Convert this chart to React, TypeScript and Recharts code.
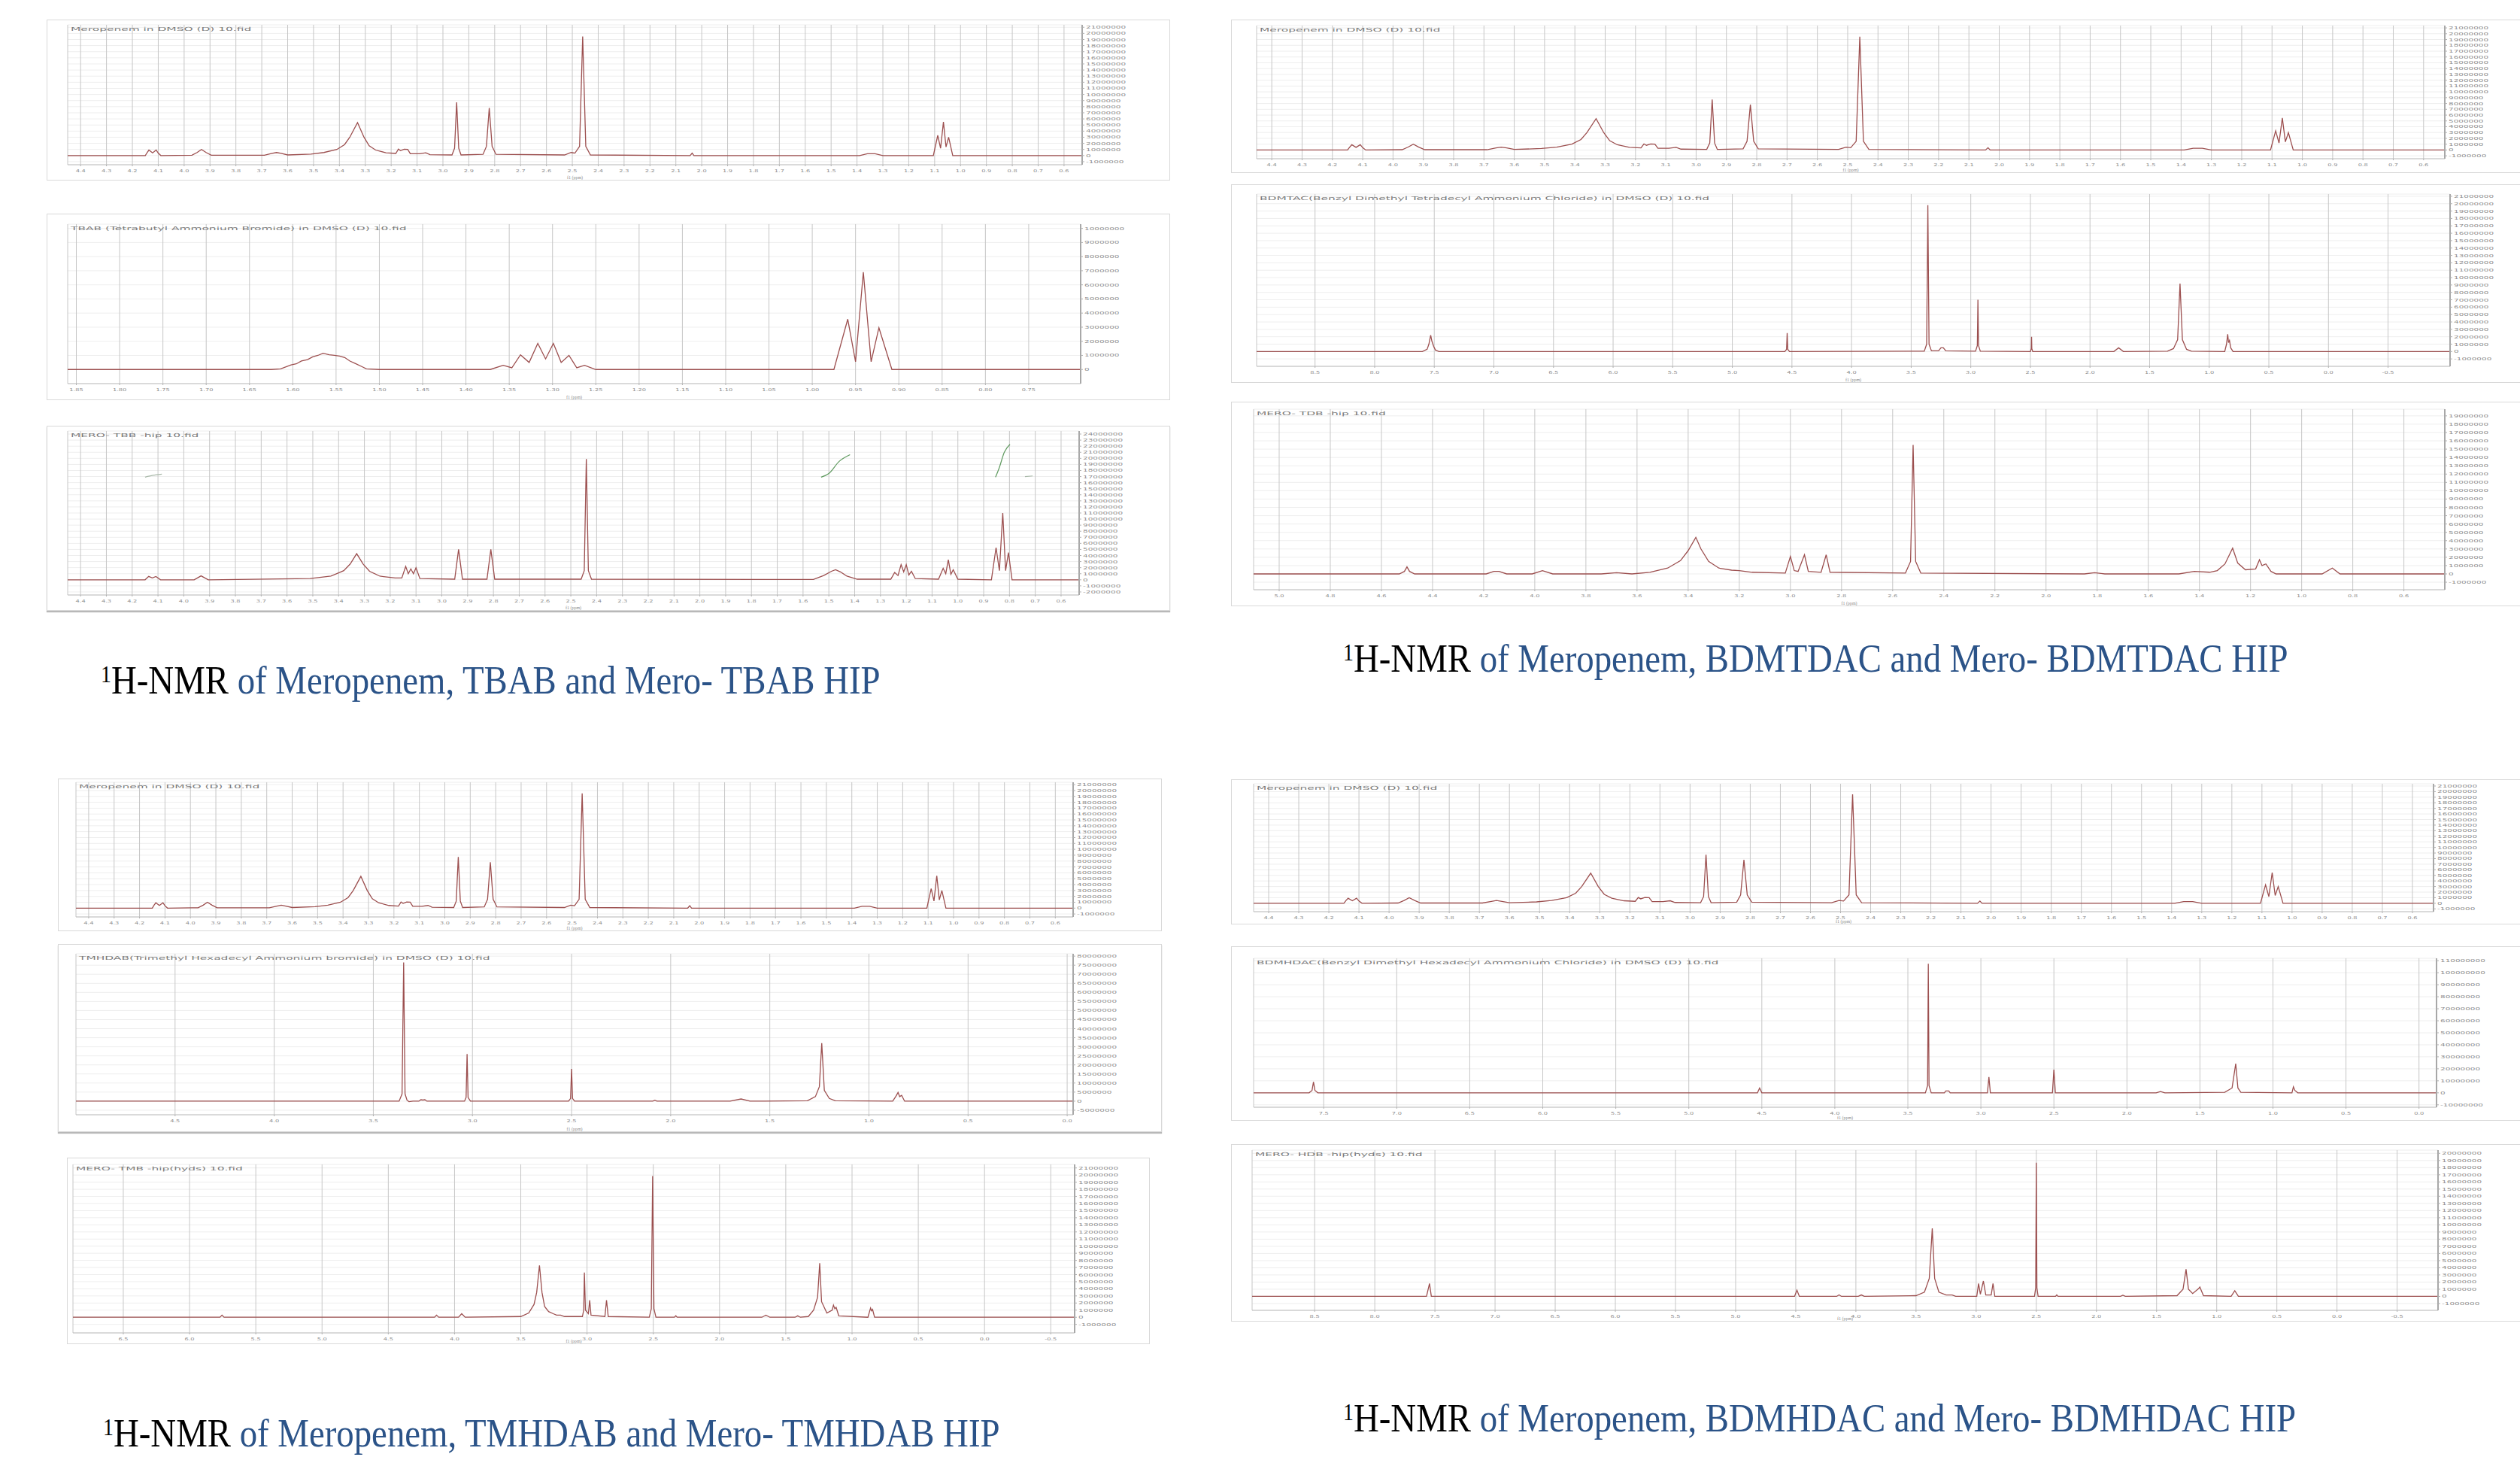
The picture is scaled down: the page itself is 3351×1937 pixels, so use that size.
import React from 'react';
import { LineChart, Line, XAxis, YAxis, CartesianGrid } from 'recharts';

type Pt = [number, number];

// ---- x tick labels (ppm) ----
const MERO_X_TICKS = [4.4, 4.3, 4.2, 4.1, 4.0, 3.9, 3.8, 3.7, 3.6, 3.5, 3.4, 3.3, 3.2, 3.1, 3.0, 2.9, 2.8, 2.7, 2.6, 2.5, 2.4, 2.3, 2.2, 2.1, 2.0, 1.9, 1.8, 1.7, 1.6, 1.5, 1.4, 1.3, 1.2, 1.1, 1.0, 0.9, 0.8, 0.7, 0.6];
const TBAB_X_TICKS = [1.85, 1.8, 1.75, 1.7, 1.65, 1.6, 1.55, 1.5, 1.45, 1.4, 1.35, 1.3, 1.25, 1.2, 1.15, 1.1, 1.05, 1.0, 0.95, 0.9, 0.85, 0.8, 0.75];
const BDMTDAC_X_TICKS = [8.5, 8.0, 7.5, 7.0, 6.5, 6.0, 5.5, 5.0, 4.5, 4.0, 3.5, 3.0, 2.5, 2.0, 1.5, 1.0, 0.5, 0.0, -0.5];
const MERO_BDMTDAC_X_TICKS = [5.0, 4.8, 4.6, 4.4, 4.2, 4.0, 3.8, 3.6, 3.4, 3.2, 3.0, 2.8, 2.6, 2.4, 2.2, 2.0, 1.8, 1.6, 1.4, 1.2, 1.0, 0.8, 0.6];
const TMHDAB_X_TICKS = [4.5, 4.0, 3.5, 3.0, 2.5, 2.0, 1.5, 1.0, 0.5, 0.0];
const MERO_TMHDAB_X_TICKS = [6.5, 6.0, 5.5, 5.0, 4.5, 4.0, 3.5, 3.0, 2.5, 2.0, 1.5, 1.0, 0.5, 0.0, -0.5];
const BDMHDAC_X_TICKS = [7.5, 7.0, 6.5, 6.0, 5.5, 5.0, 4.5, 4.0, 3.5, 3.0, 2.5, 2.0, 1.5, 1.0, 0.5, 0.0];
const MERO_BDMHDAC_X_TICKS = [8.5, 8.0, 7.5, 7.0, 6.5, 6.0, 5.5, 5.0, 4.5, 4.0, 3.5, 3.0, 2.5, 2.0, 1.5, 1.0, 0.5, 0.0, -0.5];

// ---- y tick labels (intensity, in units of 1e6 unless noted) ----
const MERO_Y_TICKS = [-1, 0, 1, 2, 3, 4, 5, 6, 7, 8, 9, 10, 11, 12, 13, 14, 15, 16, 17, 18, 19, 20, 21];
const TBAB_Y_TICKS = [0, 1, 2, 3, 4, 5, 6, 7, 8, 9, 10];
const MERO_TBAB_Y_TICKS = [-2, -1, 0, 1, 2, 3, 4, 5, 6, 7, 8, 9, 10, 11, 12, 13, 14, 15, 16, 17, 18, 19, 20, 21, 22, 23, 24];
const MERO_BDMTDAC_Y_TICKS = [-1, 0, 1, 2, 3, 4, 5, 6, 7, 8, 9, 10, 11, 12, 13, 14, 15, 16, 17, 18, 19];
const TMHDAB_Y_TICKS = [-5, 0, 5, 10, 15, 20, 25, 30, 35, 40, 45, 50, 55, 60, 65, 70, 75, 80];
const BDMHDAC_Y_TICKS = [-1, 0, 1, 2, 3, 4, 5, 6, 7, 8, 9, 10, 11]; // units of 1e7
const MERO_BDMHDAC_Y_TICKS = [-1, 0, 1, 2, 3, 4, 5, 6, 7, 8, 9, 10, 11, 12, 13, 14, 15, 16, 17, 18, 19, 20];

// ---- spectra: [ppm, intensity] ----
const MEROPENEM: Pt[] = [
  [4.45, 0], [4.15, 0], [4.143, 0.5], [4.136, 0.9], [4.122, 0.45], [4.108, 0.9], [4.1, 0.4], [4.09, 0],
  [3.97, 0.05], [3.95, 0.5], [3.933, 1.0], [3.915, 0.5], [3.895, 0.05],
  [3.69, 0.05], [3.66, 0.35], [3.643, 0.5], [3.625, 0.35], [3.6, 0.1],
  [3.51, 0.25], [3.46, 0.5], [3.41, 1.0], [3.38, 1.8], [3.36, 3.0], [3.33, 5.4], [3.305, 3.0], [3.285, 1.6], [3.26, 0.9], [3.22, 0.45],
  [3.182, 0.35], [3.172, 1.05], [3.164, 0.8], [3.15, 1.05], [3.136, 1.0], [3.126, 0.3], [3.09, 0.3], [3.066, 0.45], [3.05, 0.15],
  [2.965, 0.1], [2.955, 1.2], [2.947, 8.7], [2.939, 1.2], [2.93, 0.1],
  [2.845, 0.2], [2.832, 1.5], [2.821, 7.8], [2.81, 1.5], [2.795, 0.2],
  [2.53, 0.1], [2.505, 0.5], [2.49, 0.4], [2.472, 1.5], [2.46, 19.5], [2.448, 1.5], [2.43, 0.1],
  [2.045, 0], [2.037, 0.4], [2.03, 0],
  [1.39, 0], [1.36, 0.3], [1.33, 0.3], [1.3, 0],
  [1.105, 0], [1.088, 3.3], [1.077, 1.2], [1.066, 5.5], [1.056, 1.4], [1.046, 3.0], [1.03, 0],
  [0.53, 0],
];

const TBAB: Pt[] = [
  [1.86, 0], [1.625, 0], [1.614, 0.05], [1.602, 0.33], [1.596, 0.4], [1.59, 0.6], [1.583, 0.7], [1.577, 0.9], [1.571, 1.0],
  [1.565, 1.15], [1.558, 1.05], [1.552, 1.0], [1.546, 0.95], [1.54, 0.85], [1.534, 0.6], [1.528, 0.43], [1.52, 0.2], [1.515, 0.05], [1.5, 0],
  [1.372, 0], [1.357, 0.3], [1.347, 0.12], [1.337, 1.04], [1.327, 0.5], [1.317, 1.85], [1.308, 0.75], [1.299, 1.85], [1.29, 0.5],
  [1.281, 1.0], [1.272, 0.12], [1.263, 0.3], [1.25, 0],
  [0.975, 0], [0.959, 3.57], [0.95, 0.55], [0.941, 6.9], [0.932, 0.55], [0.923, 2.96], [0.908, 0],
  [0.69, 0],
];

const MERO_TBAB: Pt[] = [
  [4.45, 0], [4.15, 0], [4.136, 0.55], [4.122, 0.3], [4.108, 0.55], [4.09, 0],
  [3.96, 0], [3.933, 0.65], [3.905, 0],
  [3.51, 0.2], [3.43, 0.6], [3.38, 1.5], [3.355, 2.6], [3.33, 4.3], [3.305, 2.6], [3.28, 1.4], [3.24, 0.6], [3.18, 0.3],
  [3.155, 0.3], [3.14, 2.2], [3.13, 1.0], [3.12, 1.8], [3.11, 1.0], [3.1, 2.0], [3.085, 0.2],
  [2.95, 0.1], [2.935, 5.0], [2.92, 0.1],
  [2.825, 0.1], [2.81, 5.0], [2.795, 0.1],
  [2.46, 0.1], [2.448, 1.5], [2.44, 19.9], [2.432, 1.5], [2.42, 0.1],
  [1.56, 0.05], [1.52, 0.7], [1.49, 1.4], [1.474, 1.65], [1.455, 1.3], [1.43, 0.6], [1.39, 0.1],
  [1.26, 0.1], [1.245, 1.2], [1.232, 0.7], [1.22, 2.5], [1.21, 1.3], [1.2, 2.5], [1.19, 0.8], [1.18, 1.4], [1.165, 0.2],
  [1.075, 0.1], [1.057, 1.9], [1.047, 1.0], [1.037, 3.3], [1.027, 0.9], [1.018, 1.65], [1.0, 0.1],
  [0.87, 0], [0.852, 5.3], [0.839, 1.5], [0.826, 11], [0.815, 1.5], [0.804, 4.5], [0.79, 0],
  [0.53, 0],
];
const MERO_TBAB_INT_1: Pt[] = [[1.53, 16.9], [1.5, 17.5], [1.46, 19.5], [1.418, 20.6]];
const MERO_TBAB_INT_2: Pt[] = [[0.854, 16.9], [0.84, 18.4], [0.82, 21], [0.798, 22.3]];
const MERO_TBAB_INT_3: Pt[] = [[4.15, 16.9], [4.12, 17.2], [4.085, 17.4]];
const MERO_TBAB_INT_4: Pt[] = [[0.74, 17.0], [0.71, 17.1]];

const BDMTDAC: Pt[] = [
  [8.99, 0], [7.6, 0], [7.56, 0.3], [7.545, 1.0], [7.53, 2.2], [7.52, 1.4], [7.505, 0.7], [7.49, 0.2], [7.46, 0],
  [4.56, 0], [4.545, 0.3], [4.54, 2.5], [4.535, 0.3], [4.52, 0],
  [3.39, 0.05], [3.37, 1.0], [3.36, 19.8], [3.35, 1.0], [3.33, 0.1], [3.27, 0.1], [3.25, 0.5], [3.23, 0.5], [3.21, 0.1],
  [2.96, 0.05], [2.945, 0.8], [2.94, 7.0], [2.935, 0.8], [2.92, 0.05],
  [2.5, 0], [2.492, 0.4], [2.49, 2.0], [2.488, 0.4], [2.48, 0],
  [1.8, 0], [1.76, 0.5], [1.72, 0],
  [1.35, 0.05], [1.3, 0.4], [1.265, 1.6], [1.245, 9.2], [1.225, 1.6], [1.19, 0.3], [1.15, 0.05],
  [0.87, 0], [0.855, 1.0], [0.845, 2.35], [0.838, 1.2], [0.83, 1.5], [0.82, 0.5], [0.8, 0],
  [-1.02, 0],
];

const MERO_BDMTDAC: Pt[] = [
  [5.1, 0], [4.53, 0], [4.51, 0.3], [4.5, 0.85], [4.49, 0.3], [4.47, 0],
  [4.19, 0], [4.16, 0.3], [4.14, 0.3], [4.11, 0],
  [4.01, 0], [3.97, 0.4], [3.93, 0],
  [3.74, 0], [3.68, 0.15], [3.62, 0],
  [3.55, 0.2], [3.48, 0.7], [3.43, 1.6], [3.4, 2.8], [3.37, 4.4], [3.35, 3.0], [3.32, 1.5], [3.28, 0.7], [3.23, 0.45], [3.2, 0.4], [3.15, 0.2],
  [3.02, 0.1], [3.0, 2.1], [2.985, 0.4], [2.97, 0.3], [2.945, 2.3], [2.93, 0.3], [2.88, 0.2], [2.86, 2.3], [2.845, 0.2],
  [2.55, 0.1], [2.53, 1.5], [2.52, 15.5], [2.51, 1.5], [2.49, 0.1],
  [1.85, 0], [1.81, 0.15], [1.77, 0],
  [1.48, 0], [1.42, 0.3], [1.36, 0.2],
  [1.33, 0.4], [1.3, 1.2], [1.27, 3.1], [1.25, 1.3], [1.22, 0.5], [1.18, 0.6], [1.165, 1.7], [1.155, 1.0], [1.14, 1.2], [1.12, 0.3], [1.1, 0],
  [0.92, 0], [0.88, 0.7], [0.85, 0],
  [0.44, 0],
];

const TMHDAB: Pt[] = [
  [5.0, 0], [3.37, 0], [3.355, 4], [3.347, 76.5], [3.34, 4], [3.33, 0.5], [3.32, -0.3], [3.3, 0],
  [3.27, 0], [3.26, 0.8], [3.25, 0.6], [3.24, 0.8], [3.23, 0],
  [3.04, 0], [3.032, 2], [3.027, 26], [3.022, 2], [3.01, 0],
  [2.515, 0], [2.505, 1.5], [2.5, 17.8], [2.495, 1.5], [2.485, 0],
  [2.09, 0], [2.08, 0.5], [2.07, 0],
  [1.7, 0], [1.645, 1.2], [1.6, 0],
  [1.31, 0.2], [1.27, 2.5], [1.25, 8], [1.238, 32], [1.225, 6], [1.2, 1.5], [1.17, 0.2],
  [0.88, 0], [0.865, 2.5], [0.853, 4.8], [0.845, 2.5], [0.835, 3.2], [0.82, 0],
  [-0.03, 0],
];

const MERO_TMHDAB: Pt[] = [
  [6.88, 0], [5.77, 0], [5.755, 0.3], [5.74, 0],
  [4.15, 0], [4.136, 0.3], [4.12, 0],
  [3.97, 0], [3.946, 0.5], [3.92, 0],
  [3.5, 0.1], [3.44, 0.6], [3.4, 1.8], [3.38, 3.5], [3.359, 7.3], [3.34, 3.5], [3.32, 1.5], [3.29, 0.8], [3.255, 0.5], [3.23, 0.3], [3.2, 0.3], [3.17, 0.1],
  [3.035, 0.1], [3.025, 1.0], [3.02, 6.3], [3.012, 1.0], [2.99, 0.5], [2.98, 2.4], [2.97, 0.3],
  [2.865, 0.1], [2.853, 2.4], [2.84, 0.1],
  [2.53, 0], [2.515, 1.2], [2.505, 19.85], [2.495, 1.2], [2.48, 0],
  [2.34, 0], [2.33, 0.2], [2.32, 0],
  [1.68, 0], [1.65, 0.3], [1.62, 0],
  [1.43, 0], [1.41, 0.2], [1.39, 0],
  [1.33, 0.1], [1.29, 1.0], [1.26, 2.8], [1.244, 7.6], [1.23, 2.2], [1.19, 0.6], [1.15, 1.0], [1.14, 1.7], [1.13, 1.2], [1.12, 1.4], [1.1, 0.2],
  [0.88, 0], [0.86, 1.3], [0.853, 0.9], [0.845, 1.1], [0.83, 0],
  [-0.68, 0],
];

const BDMHDAC: Pt[] = [
  [7.98, 0], [7.6, 0], [7.58, 0.2], [7.57, 0.91], [7.56, 0.2], [7.54, 0],
  [4.53, 0], [4.515, 0.4], [4.5, 0],
  [3.38, 0], [3.365, 0.6], [3.36, 10.75], [3.355, 0.6], [3.34, 0],
  [3.25, 0], [3.24, 0.15], [3.22, 0.15], [3.21, 0],
  [2.955, 0], [2.945, 1.32], [2.935, 0],
  [2.51, 0], [2.5, 1.93], [2.49, 0],
  [1.8, 0], [1.77, 0.1], [1.74, 0],
  [1.33, 0.05], [1.28, 0.4], [1.255, 2.43], [1.24, 0.4], [1.22, 0.05],
  [0.87, 0], [0.86, 0.5], [0.85, 0.2], [0.83, 0],
  [-0.12, 0],
];

const MERO_BDMHDAC: Pt[] = [
  [9.02, 0], [7.57, 0], [7.545, 1.8], [7.53, 0],
  [4.51, 0], [4.49, 0.85], [4.47, 0],
  [4.16, 0], [4.14, 0.2], [4.12, 0], [3.98, 0], [3.955, 0.2], [3.93, 0],
  [3.5, 0.1], [3.43, 0.6], [3.39, 2.5], [3.365, 9.5], [3.345, 2.5], [3.31, 0.6], [3.25, 0.2], [3.2, 0.2], [3.17, 0],
  [2.995, 0], [2.98, 1.8], [2.965, 0.3], [2.94, 2.15], [2.92, 0.2], [2.875, 0.2], [2.86, 1.8], [2.845, 0],
  [2.515, 0], [2.505, 1.2], [2.5, 18.7], [2.495, 1.2], [2.485, 0],
  [2.34, 0], [2.33, 0.2], [2.32, 0], [1.8, 0], [1.78, 0.15], [1.76, 0],
  [1.33, 0.1], [1.28, 1.0], [1.255, 3.8], [1.235, 1.0], [1.2, 0.4], [1.15, 1.1], [1.14, 1.3], [1.13, 0.9], [1.11, 0.1],
  [0.88, 0], [0.85, 0.8], [0.82, 0],
  [-0.84, 0],
];

const TITLES = {
  mero: 'Meropenem in DMSO (D) 10.fid',
  tbab: 'TBAB (Tetrabutyl Ammonium Bromide) in DMSO (D) 10.fid',
  meroTbab: 'MERO- TBB -hip 10.fid',
  bdmtdac: 'BDMTAC(Benzyl Dimethyl Tetradecyl Ammonium Chloride) in DMSO (D) 10.fid',
  meroBdmtdac: 'MERO- TDB -hip 10.fid',
  tmhdab: 'TMHDAB(Trimethyl Hexadecyl Ammonium bromide) in DMSO (D) 10.fid',
  meroTmhdab: 'MERO- TMB -hip(hyds) 10.fid',
  bdmhdac: 'BDMHDAC(Benzyl Dimethyl Hexadecyl Ammonium Chloride) in DMSO (D) 10.fid',
  meroBdmhdac: 'MERO- HDB -hip(hyds) 10.fid',
};

const CAPTIONS = [
  'of Meropenem, TBAB and Mero- TBAB HIP',
  'of Meropenem, BDMTDAC and Mero- BDMTDAC HIP',
  'of Meropenem, TMHDAB and Mero- TMHDAB HIP',
  'of Meropenem, BDMHDAC and Mero- BDMHDAC HIP',
];

const toRows = (pts: Pt[]) => pts.map(([x, y]) => ({ x, y }));

const XTick = ({ x, y, payload, digits }: any) => (
  <g transform={`translate(${x},${y})`}>
    <text transform="scale(1.5,1)" dy={6} textAnchor="middle" fontSize={5.5} fill="#8c8c8c" fontFamily="DejaVu Sans">
      {Number(payload.value).toFixed(digits)}
    </text>
  </g>
);

const YTick = ({ x, y, payload, unit }: any) => (
  <g transform={`translate(${x},${y})`}>
    <text transform="scale(1.9,1)" dy={2} textAnchor="start" fontSize={5.5} fill="#8c8c8c" fontFamily="DejaVu Sans">
      {Math.round(payload.value * unit)}
    </text>
  </g>
);

interface Spec {
  box: [number, number, number, number];
  pad: [number, number, number, number];
  title: string;
  xDomain: [number, number];
  xTicks: number[];
  digits: number;
  yDomain: [number, number];
  yTicks: number[];
  unit: number;
  curve: Pt[];
  integrals?: { pts: Pt[]; color: string }[];
  shadow?: boolean;
  openRight?: boolean;
}

const Spectrum = ({ s }: { s: Spec }) => {
  const [L, T, W, H] = s.box;
  const [pt, pr, pb, pl] = s.pad;
  return (
    <div
      style={{
        position: 'absolute', left: L, top: T, width: W, height: H, boxSizing: 'border-box',
        border: '1px solid #d9d9d9', borderRight: s.openRight ? 'none' : '1px solid #d9d9d9',
        background: '#fff', boxShadow: s.shadow ? '0 2px 1px rgba(0,0,0,0.28)' : undefined,
      }}
    >
      <LineChart width={W - 2} height={H - 2} margin={{ top: pt, right: 0, bottom: 0, left: pl }}>
        <CartesianGrid vertical={false} stroke="#eeeeee" />
        <CartesianGrid horizontal={false} stroke="#c6c6c6" />
        <XAxis
          type="number" dataKey="x" domain={s.xDomain} ticks={s.xTicks} reversed allowDataOverflow interval={0}
          height={pb} tickSize={2} tick={<XTick digits={s.digits} />}
          axisLine={{ stroke: '#bcbcbc' }} tickLine={{ stroke: '#b0b0b0' }}
          label={{ value: 'f1 (ppm)', position: 'insideBottom', offset: 1, fontSize: 6, fill: '#8c8c8c' }}
        />
        <YAxis
          orientation="right" type="number" domain={s.yDomain} ticks={s.yTicks} allowDataOverflow interval={0}
          width={pr} tickSize={3} tick={<YTick unit={s.unit} />}
          axisLine={{ stroke: '#a8a8a8', strokeWidth: 2 }} tickLine={{ stroke: '#b0b0b0' }}
        />
        <Line data={toRows(s.curve)} dataKey="y" type="linear" stroke="#9c4f4f" strokeWidth={1.3} dot={false} isAnimationActive={false} />
        {(s.integrals || []).map((g, i) => (
          <Line key={i} data={toRows(g.pts)} dataKey="y" type="monotone" stroke={g.color} strokeWidth={1.2} dot={false} isAnimationActive={false} />
        ))}
      </LineChart>
      <div
        style={{
          position: 'absolute', left: pl + 4, top: pt + 2, fontSize: 7, lineHeight: '8px', color: '#7a7a7a',
          transform: 'scaleX(2.2)', transformOrigin: 'left top', whiteSpace: 'nowrap', fontFamily: 'DejaVu Sans',
        }}
      >
        {s.title}
      </div>
    </div>
  );
};

const meroSpec = (box: Spec['box'], pad: Spec['pad']): Spec => ({
  box, pad, title: TITLES.mero, xDomain: [0.53, 4.45], xTicks: MERO_X_TICKS, digits: 1,
  yDomain: [-1.5, 21.4], yTicks: MERO_Y_TICKS, unit: 1e6, curve: MEROPENEM,
});

const SPECTRA: Spec[] = [
  // top left
  meroSpec([62, 26, 1494, 214], [6, 116, 20, 27]),
  {
    box: [62, 284, 1494, 248], pad: [13, 118, 21, 27], title: TITLES.tbab, xDomain: [0.69, 1.86], xTicks: TBAB_X_TICKS, digits: 2,
    yDomain: [-1, 10.3], yTicks: TBAB_Y_TICKS, unit: 1e6, curve: TBAB,
  },
  {
    box: [62, 566, 1494, 246], pad: [6, 120, 20, 27], title: TITLES.meroTbab, xDomain: [0.53, 4.45], xTicks: MERO_X_TICKS, digits: 1,
    yDomain: [-2.5, 24.5], yTicks: MERO_TBAB_Y_TICKS, unit: 1e6, curve: MERO_TBAB, shadow: true,
    integrals: [
      { pts: MERO_TBAB_INT_1, color: '#5f9a5f' },
      { pts: MERO_TBAB_INT_2, color: '#5f9a5f' },
      { pts: MERO_TBAB_INT_3, color: '#a9b9a9' },
      { pts: MERO_TBAB_INT_4, color: '#a9b9a9' },
    ],
  },
  // top right
  { ...meroSpec([1637, 26, 1714, 204], [7, 99, 18, 33]), openRight: true },
  {
    box: [1637, 245, 1714, 264], pad: [12, 92, 21, 33], title: TITLES.bdmtdac, xDomain: [-1.02, 8.99], xTicks: BDMTDAC_X_TICKS, digits: 1,
    yDomain: [-2, 21.3], yTicks: MERO_Y_TICKS, unit: 1e6, curve: BDMTDAC, openRight: true,
  },
  {
    box: [1637, 534, 1714, 272], pad: [9, 99, 21, 29], title: TITLES.meroBdmtdac, xDomain: [0.44, 5.1], xTicks: MERO_BDMTDAC_X_TICKS, digits: 1,
    yDomain: [-1.9, 19.8], yTicks: MERO_BDMTDAC_Y_TICKS, unit: 1e6, curve: MERO_BDMTDAC, openRight: true,
  },
  // bottom left
  meroSpec([77, 1035, 1468, 203], [4, 117, 18, 23]),
  {
    box: [77, 1255, 1468, 250], pad: [12, 117, 22, 23], title: TITLES.tmhdab, xDomain: [-0.03, 5.0], xTicks: TMHDAB_X_TICKS, digits: 1,
    yDomain: [-7.5, 81.3], yTicks: TMHDAB_Y_TICKS, unit: 1e6, curve: TMHDAB, shadow: true,
  },
  {
    box: [89, 1539, 1440, 248], pad: [8, 99, 14, 7], title: TITLES.meroTmhdab, xDomain: [-0.68, 6.88], xTicks: MERO_TMHDAB_X_TICKS, digits: 1,
    yDomain: [-2.2, 21.5], yTicks: MERO_Y_TICKS, unit: 1e6, curve: MERO_TMHDAB,
  },
  // bottom right
  { ...meroSpec([1637, 1036, 1714, 193], [5, 114, 16, 29]), openRight: true },
  {
    box: [1637, 1258, 1714, 232], pad: [15, 110, 17, 29], title: TITLES.bdmhdac, xDomain: [-0.12, 7.98], xTicks: BDMHDAC_X_TICKS, digits: 1,
    yDomain: [-1.2, 11.2], yTicks: BDMHDAC_Y_TICKS, unit: 1e7, curve: BDMHDAC, openRight: true,
  },
  {
    box: [1637, 1521, 1714, 236], pad: [7, 108, 14, 27], title: TITLES.meroBdmhdac, xDomain: [-0.84, 9.02], xTicks: MERO_BDMHDAC_X_TICKS, digits: 1,
    yDomain: [-1.95, 20.45], yTicks: MERO_BDMHDAC_Y_TICKS, unit: 1e6, curve: MERO_BDMHDAC, openRight: true,
  },
];

// caption left x and baseline y
const CAPTION_POS: [number, number][] = [[134, 922], [1786, 893], [137, 1923], [1786, 1903]];

const Caption = ({ text, x, baseline }: { text: string; x: number; baseline: number }) => (
  <div
    style={{
      position: 'absolute', left: x, top: baseline - 42, fontSize: 52, lineHeight: '50px', whiteSpace: 'nowrap',
      fontFamily: '"Liberation Serif", serif', color: '#2b5388', transform: 'scaleX(0.9)', transformOrigin: 'left top',
    }}
  >
    <span style={{ color: '#000' }}>
      <span style={{ fontSize: 31, position: 'relative', top: -15 }}>1</span>H-NMR
    </span>{' '}
    {text}
  </div>
);

export default function App() {
  return (
    <div style={{ position: 'absolute', left: 0, top: 0, width: 3351, height: 1937, background: '#fff', overflow: 'hidden' }}>
      {SPECTRA.map((s, i) => (
        <Spectrum key={i} s={s} />
      ))}
      {CAPTIONS.map((c, i) => (
        <Caption key={i} text={c} x={CAPTION_POS[i][0]} baseline={CAPTION_POS[i][1]} />
      ))}
    </div>
  );
}
